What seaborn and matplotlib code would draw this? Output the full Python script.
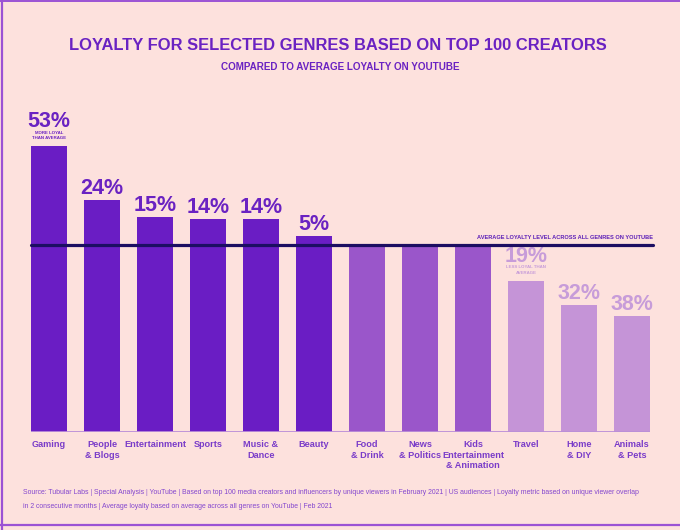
import matplotlib
matplotlib.use("Agg")
import matplotlib.pyplot as plt
import seaborn as sns
import pandas as pd
from matplotlib.lines import Line2D

genres = ["Gaming", "People\n& Blogs", "Entertainment", "Sports", "Music &\nDance",
          "Beauty", "Food\n& Drink", "News\n& Politics", "Kids\nEntertainment\n& Animation",
          "Travel", "Home\n& DIY", "Animals\n& Pets"]
loyalty_vs_avg = [53, 24, 15, 14, 14, 5, 0, 0, 0, -19, -32, -38]
value_labels = ["53%", "24%", "15%", "14%", "14%", "5%", "", "", "", "19%", "32%", "38%"]
groups = ["above"] * 6 + ["average"] * 3 + ["below"] * 3
notes = {0: "MORE LOYAL\nTHAN AVERAGE", 9: "LESS LOYAL THAN\nAVERAGE"}

BG = "#fde1dd"
DARK = "#6a1dc4"
MID = "#9a56ca"
LIGHT = "#c594d7"
NAVY = "#1c0e62"
TXT = "#7a3cc9"
palette = {"above": DARK, "average": MID, "below": LIGHT}
label_colors = {"above": "#6a22c2", "average": MID, "below": "#c79cd9"}

df = pd.DataFrame({"genre": genres, "index": [100 + v for v in loyalty_vs_avg], "group": groups})

sns.set_theme(style="white")
plt.rcParams["font.family"] = ["Liberation Sans", "DejaVu Sans"]

W, H = 680, 530
fig = plt.figure(figsize=(6.8, 5.3), dpi=100, facecolor=BG)
ax = fig.add_axes([31 / W, 1 - 432 / H, (650 - 31) / W, (432 - 100) / H])
ax.set_facecolor(BG)

sns.barplot(data=df, x="genre", y="index", hue="group", palette=palette, dodge=False,
            width=0.68, saturation=1, legend=False, ax=ax, order=genres,
            linewidth=0, edgecolor="none")

ax.set_xlim(-0.34, 11.34)
ax.set_ylim(0, 100 * 332 / 187)
for s in ax.spines.values():
    s.set_visible(False)
ax.set_yticks([])
ax.set_xlabel("")
ax.set_ylabel("")
ax.tick_params(axis="x", length=0, pad=6)
for t in ax.get_xticklabels():
    t.set_fontsize(6.6)
    t.set_fontweight("bold")
    t.set_color(TXT)
    t.set_linespacing(1.18)
    t.set_multialignment("center")
    t.set_va("top")

ax.axhline(0, color="#bb8fd8", lw=1.3, zorder=3)
ax.axhline(100, color=NAVY, lw=2.3, zorder=4, xmax=1.005, clip_on=False)
ax.annotate("AVERAGE LOYALTY LEVEL ACROSS ALL GENRES ON YOUTUBE", (11.40, 100),
            xytext=(0, 3.5), textcoords="offset points", ha="right", va="bottom",
            fontsize=4.05, fontweight="bold", color="#5d20b8", annotation_clip=False)

for i, (lab, v, g) in enumerate(zip(value_labels, loyalty_vs_avg, groups)):
    if not lab:
        continue
    h = 100 + v
    col = label_colors[g]
    if i in notes:
        ax.annotate(notes[i], (i, h), xytext=(0, 4.2), textcoords="offset points",
                    ha="center", va="bottom", fontsize=3.2, fontweight="bold",
                    color=col, linespacing=1.4)
        ax.annotate(lab, (i, h), xytext=(0, 13.6), textcoords="offset points",
                    ha="center", va="baseline", fontsize=15.5, fontweight="bold", color=col)
    else:
        ax.annotate(lab, (i, h), xytext=(0, 4.3), textcoords="offset points",
                    ha="center", va="baseline", fontsize=15.5, fontweight="bold", color=col)

fig.text(0.497, 1 - 46 / H, "LOYALTY FOR SELECTED GENRES BASED ON TOP 100 CREATORS",
         ha="center", va="center", fontsize=11.9, fontweight="bold", color="#6a22c2")
fig.text(0.5, 1 - 67 / H, "COMPARED TO AVERAGE LOYALTY ON YOUTUBE",
         ha="center", va="center", fontsize=7.1, fontweight="bold", color="#6a22c2")

fig.text(23 / W, 1 - 493 / H,
         "Source: Tubular Labs | Special Analysis | YouTube | Based on top 100 media creators and influencers by unique viewers in February 2021 | US audiences | Loyalty metric based on unique viewer overlap",
         ha="left", va="center", fontsize=4.98, color="#8447cf")
fig.text(23 / W, 1 - 507 / H,
         "in 2 consecutive months | Average loyalty based on average across all genres on YouTube | Feb 2021",
         ha="left", va="center", fontsize=4.98, color="#8447cf")

border = "#9b52d4"
fig.add_artist(Line2D([1.5 / W, 1.5 / W], [0, 1], transform=fig.transFigure, color=border, lw=1.6))
fig.add_artist(Line2D([0, 1], [1 - 1 / H, 1 - 1 / H], transform=fig.transFigure, color=border, lw=1.4))
fig.add_artist(Line2D([0, 1], [1 - 525 / H, 1 - 525 / H], transform=fig.transFigure, color=border, lw=1.6))

fig.savefig("out.png", dpi=100, facecolor=BG)
